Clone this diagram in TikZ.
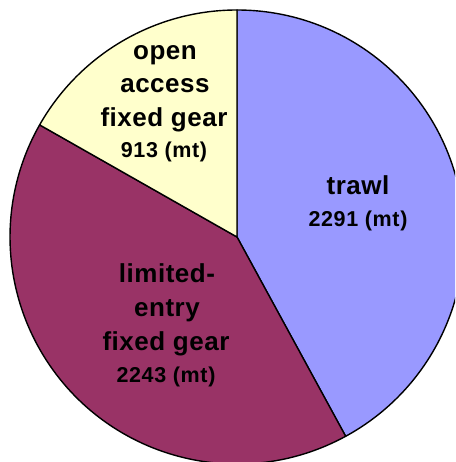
\documentclass[tikz,border=0pt]{standalone}
\usepackage{fontspec}
\setmainfont{Liberation Sans}
\definecolor{trawlc}{HTML}{9999FF}
\definecolor{limc}{HTML}{993366}
\definecolor{openc}{HTML}{FFFFCC}
\begin{document}
\begin{tikzpicture}[x=1pt,y=1pt,
  wedge/.style={draw=black,line width=1.4pt,line join=round},
  bigtxt/.style={font=\fontsize{26}{30}\selectfont\bfseries\addfontfeatures{LetterSpace=2}, anchor=base, inner sep=0pt},
  smalltxt/.style={font=\fontsize{21.5}{26}\selectfont\bfseries\addfontfeatures{LetterSpace=3}, anchor=base, inner sep=0pt}]
\useasboundingbox (0,0) rectangle (455,462);
\fill[white] (0,0) rectangle (455,462);
\clip (0,0) rectangle (455,462);
\coordinate (c) at (237,225);
\filldraw[wedge, fill=trawlc] (c) -- ++(90:227) arc[start angle=90, end angle=-61.4, radius=227] -- cycle;
\filldraw[wedge, fill=limc] (c) -- ++(-61.4:227) arc[start angle=-61.4, end angle=-209.6, radius=227] -- cycle;
\filldraw[wedge, fill=openc] (c) -- ++(150.4:227) arc[start angle=150.4, end angle=90, radius=227] -- cycle;
% open access
\node[bigtxt] (o1) at (165,402) {open};
\node[bigtxt] (o2) at (165,369) {access};
\node[bigtxt] (o3) at (164,335) {fixed gear};
\node[smalltxt] (o4) at (164,304) {913 (mt)};
% trawl
\node[bigtxt] (t1) at (358,267) {trawl};
\node[smalltxt] (t2) at (358,235) {2291 (mt)};
% limited entry
\node[bigtxt] (l1) at (167,179) {limited-};
\node[bigtxt] (l2) at (167,145) {entry};
\node[bigtxt] (l3) at (166,111) {fixed gear};
\node[smalltxt] (l4) at (166,79) {2243 (mt)};
\end{tikzpicture}
\end{document}
